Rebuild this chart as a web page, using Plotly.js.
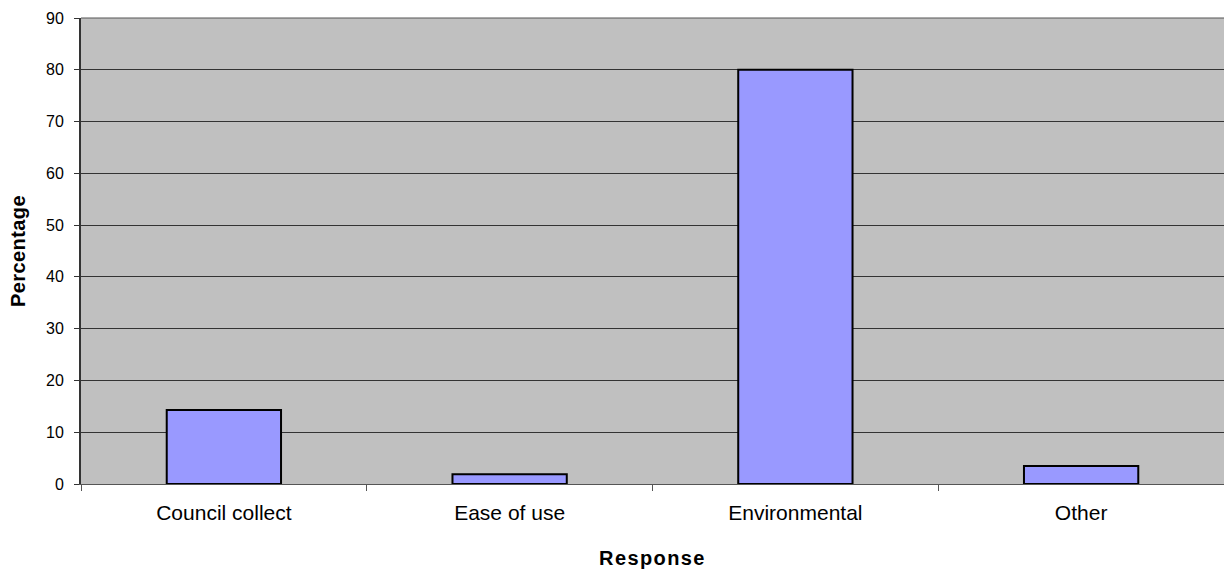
<!DOCTYPE html>
<html>
<head>
<meta charset="utf-8">
<script src="https://cdn.plot.ly/plotly-3.0.1.min.js"></script>
<style>
html,body{margin:0;padding:0;background:#fff;}
#chart{width:1224px;height:574px;}
.g-xtitle text{letter-spacing:1.4px;}
.g-ytitle text{letter-spacing:0.4px;}
</style>
</head>
<body>
<div id="chart"></div>
<script>
var categories = ["Council collect", "Ease of use", "Environmental", "Other"];
var percentages = [14.3, 1.9, 80.0, 3.5];
var yTicks = [0, 10, 20, 30, 40, 50, 60, 70, 80, 90];

var trace = {
  type: "bar",
  x: categories,
  y: percentages,
  marker: { color: "#9999FF", line: { color: "#000000", width: 2 } },
  hoverinfo: "x+y"
};

var layout = {
  width: 1224,
  height: 574,
  margin: { l: 81, r: 0, t: 18, b: 90 },
  paper_bgcolor: "#FFFFFF",
  plot_bgcolor: "#C0C0C0",
  bargap: 0.6,
  showlegend: false,
  font: { family: "Liberation Sans, Arial, sans-serif", color: "#000000" },
  xaxis: {
    type: "category",
    tickson: "boundaries",
    ticks: "outside",
    ticklen: 6,
    tickcolor: "#555555",
    showline: true,
    linecolor: "#555555",
    linewidth: 1,
    showgrid: false,
    tickfont: { size: 21 },
    ticklabelstandoff: 10,
    title: { text: "<b>Response</b>", font: { size: 20 }, standoff: 27 }
  },
  yaxis: {
    range: [0, 90],
    tickvals: yTicks,
    ticks: "outside",
    ticklen: 5,
    tickcolor: "#333333",
    showline: true,
    linecolor: "#333333",
    linewidth: 2,
    mirror: false,
    showgrid: true,
    gridcolor: "#333333",
    gridwidth: 1,
    zeroline: false,
    tickfont: { size: 16 },
    ticklabelstandoff: 7,
    title: { text: "<b>Percentage</b>", font: { size: 20 }, standoff: 15 }
  },
  shapes: [{
    type: "line", xref: "paper", yref: "paper", x0: 0, x1: 1, y0: 1, y1: 1,
    line: { color: "#555555", width: 1 }
  }]
};

Plotly.newPlot("chart", [trace], layout, { displayModeBar: false, staticPlot: true });
</script>
</body>
</html>
